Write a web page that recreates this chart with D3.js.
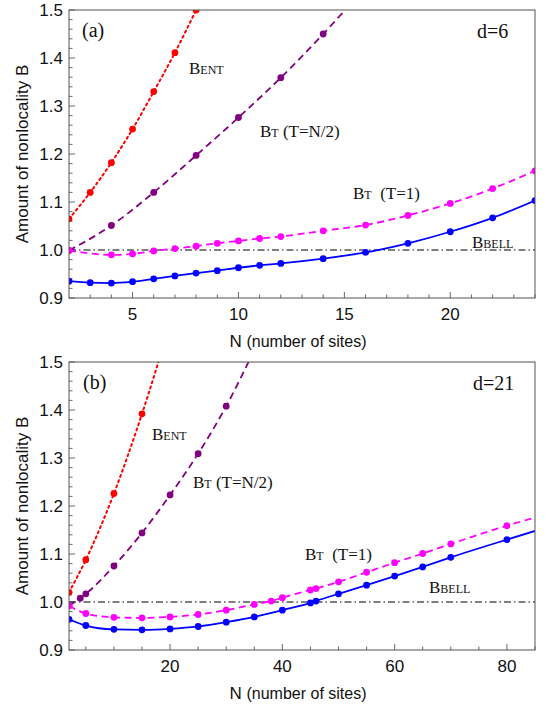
<!DOCTYPE html>
<html>
<head>
<meta charset="utf-8">
<script src="https://cdn.jsdelivr.net/npm/d3@7"></script>
<style>
  html, body { margin: 0; padding: 0; background: #fff; }
  svg { display: block; }
</style>
</head>
<body>
<svg id="chart" width="552" height="707"></svg>
<script>
// ---------- Panel (a): d = 6 ----------
const aEntN  = [2, 3, 4, 5, 6, 7, 8];
const aEntV  = [1.065, 1.120, 1.182, 1.252, 1.330, 1.411, 1.500];
const aHalfN = [2, 4, 6, 8, 10, 12, 14, 16];
const aHalfV = [0.999, 1.051, 1.120, 1.197, 1.276, 1.359, 1.450, 1.548];
const aT1N   = [2, 4, 5, 6, 7, 8, 9, 10, 11, 12, 14, 16, 18, 20, 22, 24];
const aT1V   = [0.999, 0.990, 0.992, 0.998, 1.003, 1.008, 1.014, 1.019, 1.024, 1.028, 1.040, 1.052, 1.072, 1.097, 1.128, 1.165];
const aBellN = [2, 3, 4, 5, 6, 7, 8, 9, 10, 11, 12, 14, 16, 18, 20, 22, 24];
const aBellV = [0.935, 0.932, 0.931, 0.934, 0.940, 0.946, 0.952, 0.957, 0.963, 0.968, 0.972, 0.982, 0.995, 1.014, 1.038, 1.067, 1.103];
const aXTicks = [5, 10, 15, 20];

// ---------- Panel (b): d = 21 ----------
const bEntN  = [2, 5, 10, 15, 20];
const bEntV  = [1.020, 1.088, 1.226, 1.392, 1.580];
const bHalfN = [2, 4, 5, 10, 15, 20, 25, 30, 35];
const bHalfV = [0.992, 1.008, 1.017, 1.075, 1.144, 1.223, 1.309, 1.408, 1.525];
const bT1N   = [2, 5, 10, 15, 20, 25, 30, 35, 38, 40, 45, 46, 50, 55, 60, 65, 70, 80];
const bT1V   = [0.992, 0.976, 0.968, 0.967, 0.969, 0.974, 0.983, 0.995, 1.002, 1.009, 1.025, 1.028, 1.042, 1.062, 1.082, 1.101, 1.121, 1.159];
const bT1EndN = 85, bT1EndV = 1.176;        // curve continues past last marker
const bBellN = [2, 5, 10, 15, 20, 25, 30, 35, 40, 45, 46, 50, 55, 60, 65, 70, 80];
const bBellV = [0.964, 0.951, 0.943, 0.942, 0.944, 0.949, 0.958, 0.969, 0.983, 0.998, 1.002, 1.017, 1.035, 1.054, 1.073, 1.093, 1.130];
const bBellEndN = 85, bBellEndV = 1.148;
const bXTicks = [20, 40, 60, 80];

const yTicks = [0.9, 1.0, 1.1, 1.2, 1.3, 1.4, 1.5];
const bellLevel = 1.0;

const svg = d3.select("#chart");
const COL = { ent: "#ff0000", half: "#800080", t1: "#ff00ff", bell: "#0000ff" };

function smallCaps(sel, parts) {
  // parts: [[text, size], ...]
  parts.forEach(p => sel.append("tspan").attr("font-size", p[1]).text(p[0]));
}

function panel(opts) {
  const L = 69, R = 535, T = opts.top, B = opts.top + 288;
  const x = d3.scaleLinear().domain(opts.xDomain).range([L, R]);
  const y = d3.scaleLinear().domain([0.9, 1.5]).range([B, T]);
  const g = svg.append("g");
  const clipId = "clip" + opts.id;
  svg.append("defs").append("clipPath").attr("id", clipId)
    .append("rect").attr("x", L).attr("y", T).attr("width", R - L).attr("height", B - T);

  // axes ticks (inside)
  const yMinor = d3.range(0.9, 1.5001, 0.02);
  g.selectAll(".ymin").data(yMinor).join("line")
    .attr("x1", L).attr("x2", d => (Math.abs(Math.round(d * 10) / 10 - d) < 1e-6) ? L + 6 : L + 3.5)
    .attr("y1", d => y(d)).attr("y2", d => y(d))
    .attr("stroke", "#444").attr("stroke-width", 0.8);
  const xMinor = d3.range(opts.minorStart, opts.xDomain[1] + 0.001, opts.minorStep);
  g.selectAll(".xmin").data(xMinor).join("line")
    .attr("x1", d => x(d)).attr("x2", d => x(d))
    .attr("y1", B).attr("y2", d => opts.xTicks.includes(d) ? B - 6 : B - 3.5)
    .attr("stroke", "#444").attr("stroke-width", 0.8);

  // tick labels
  g.selectAll(".ylab").data(yTicks).join("text")
    .attr("x", 63).attr("y", d => y(d) + 6)
    .attr("text-anchor", "end")
    .attr("font-family", "Liberation Sans, Arial, sans-serif")
    .attr("font-size", 17).attr("fill", "#111")
    .text(d => d.toFixed(1));
  g.selectAll(".xlab").data(opts.xTicks).join("text")
    .attr("x", d => x(d)).attr("y", B + 22)
    .attr("text-anchor", "middle")
    .attr("font-family", "Liberation Sans, Arial, sans-serif")
    .attr("font-size", 17).attr("fill", "#111")
    .text(d => d);

  // axis titles
  const xt = g.append("text")
    .attr("x", (L + R) / 2 - 4).attr("y", B + 49)
    .attr("text-anchor", "middle")
    .attr("font-family", "Liberation Sans, Arial, sans-serif")
    .attr("fill", "#111");
  xt.append("tspan").attr("font-size", 17).text("N ");
  xt.append("tspan").attr("font-size", 16).text("(number of sites)");
  g.append("text")
    .attr("transform", `translate(28,${(T + B) / 2}) rotate(-90)`)
    .attr("text-anchor", "middle")
    .attr("font-family", "Liberation Sans, Arial, sans-serif")
    .attr("font-size", 17).attr("fill", "#111")
    .text("Amount of nonlocality B");

  const plot = g.append("g").attr("clip-path", `url(#${clipId})`);

  // Bell bound
  plot.append("line")
    .attr("x1", L).attr("x2", R).attr("y1", y(bellLevel)).attr("y2", y(bellLevel))
    .attr("stroke", "#000").attr("stroke-width", 1)
    .attr("stroke-dasharray", "7,3,1.5,3");

  const line = d3.line().x(d => x(d[0])).y(d => y(d[1])).curve(d3.curveMonotoneX);

  opts.series.forEach(s => {
    const pts = s.n.map((n, i) => [n, s.v[i]]);
    const linePts = s.end ? pts.concat([s.end]) : pts;
    plot.append("path").datum(linePts)
      .attr("d", line).attr("fill", "none")
      .attr("stroke", s.color).attr("stroke-width", s.w || 1.8)
      .attr("stroke-dasharray", s.dash || null)
      .attr("stroke-linecap", s.cap || "butt");
    plot.selectAll(null).data(pts).join("circle")
      .attr("cx", d => x(d[0])).attr("cy", d => y(d[1]))
      .attr("r", 3.4).attr("fill", s.color);
  });

  // frame
  g.append("rect").attr("x", L).attr("y", T).attr("width", R - L).attr("height", B - T)
    .attr("fill", "none").attr("stroke", "#555").attr("stroke-width", 1);

  // annotations
  const serif = "Liberation Serif, Times New Roman, serif";
  const ann = opts.labels;
  g.append("text").attr("x", ann.tag[0]).attr("y", ann.tag[1])
    .attr("font-family", serif).attr("font-size", 20).attr("fill", "#111").text(ann.tag[2]);
  g.append("text").attr("x", ann.d[0]).attr("y", ann.d[1])
    .attr("font-family", serif).attr("font-size", 20).attr("fill", "#111").text(ann.d[2]);
  smallCaps(g.append("text").attr("x", ann.ent[0]).attr("y", ann.ent[1])
    .attr("font-family", serif).attr("fill", "#111"), [["B", 17], ["ENT", 12]]);
  smallCaps(g.append("text").attr("x", ann.half[0]).attr("y", ann.half[1])
    .attr("font-family", serif).attr("fill", "#111"), [["B", 17], ["T", 12], ["\u00a0(T=N/2)", 17]]);
  smallCaps(g.append("text").attr("x", ann.t1[0]).attr("y", ann.t1[1])
    .attr("font-family", serif).attr("fill", "#111"), [["B", 17], ["T", 12], ["\u00a0\u00a0(T=1)", 17]]);
  smallCaps(g.append("text").attr("x", ann.bell[0]).attr("y", ann.bell[1])
    .attr("font-family", serif).attr("fill", "#111"), [["B", 17], ["BELL", 12]]);
}

panel({
  id: "a", top: 10, xDomain: [2, 24], xTicks: aXTicks, minorStart: 3, minorStep: 1,
  series: [
    { n: aEntN, v: aEntV, color: COL.ent, dash: "2,3.5", w: 2, cap: "round" },
    { n: aHalfN, v: aHalfV, color: COL.half, dash: "7,4.5" },
    { n: aT1N, v: aT1V, color: COL.t1, dash: "7,4.5" },
    { n: aBellN, v: aBellV, color: COL.bell }
  ],
  labels: {
    tag: [82, 37, "(a)"], d: [477, 38, "d=6"],
    ent: [189, 74], half: [260, 137], t1: [353, 199], bell: [472, 248]
  }
});

panel({
  id: "b", top: 362, xDomain: [2, 85], xTicks: bXTicks, minorStart: 5, minorStep: 5,
  series: [
    { n: bEntN, v: bEntV, color: COL.ent, dash: "2,3.5", w: 2, cap: "round" },
    { n: bHalfN, v: bHalfV, color: COL.half, dash: "7,4.5" },
    { n: bT1N, v: bT1V, color: COL.t1, dash: "7,4.5", end: [bT1EndN, bT1EndV] },
    { n: bBellN, v: bBellV, color: COL.bell, end: [bBellEndN, bBellEndV] }
  ],
  labels: {
    tag: [83, 389, "(b)"], d: [473, 390, "d=21"],
    ent: [152, 440], half: [193, 488], t1: [305, 560], bell: [429, 593]
  }
});
</script>
</body>
</html>
